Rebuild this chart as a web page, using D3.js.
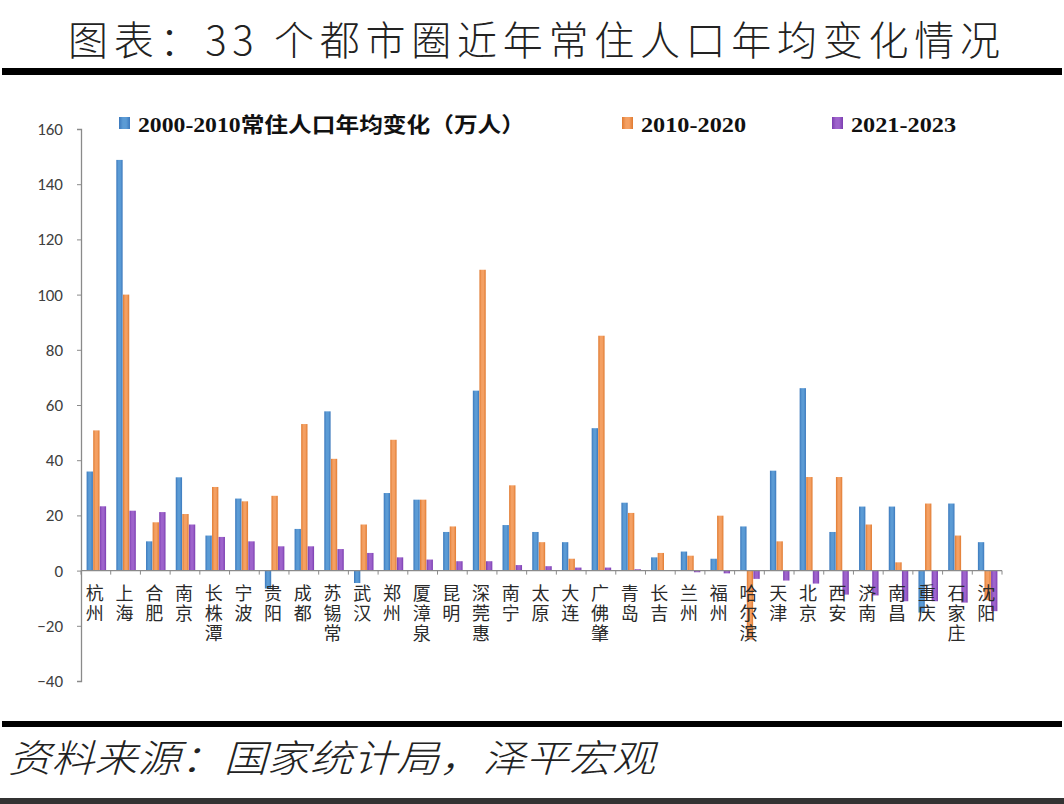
<!DOCTYPE html>
<html><head><meta charset="utf-8">
<script src="https://cdn.jsdelivr.net/npm/d3@7"></script>
<style>
html,body{margin:0;padding:0;background:#fff;}
svg{display:block;}
</style></head>
<body>
<svg id="c" width="1064" height="804"></svg>
<script>
const categories = ["杭州","上海","合肥","南京","长株潭","宁波","贵阳","成都","苏锡常","武汉","郑州","厦漳泉","昆明","深莞惠","南宁","太原","大连","广佛肇","青岛","长吉","兰州","福州","哈尔滨","天津","北京","西安","济南","南昌","重庆","石家庄","沈阳"];
const seriesNames = ["2000-2010常住人口年均变化（万人）","2010-2020","2021-2023"];
const s2000_2010 = [35.9,148.8,10.6,33.8,12.7,26.1,-6.5,15.1,57.7,-4.5,28.1,25.7,14.0,65.2,16.5,14.0,10.3,51.6,24.6,4.8,6.9,4.3,16.0,36.2,66.1,14.0,23.2,23.2,-15.2,24.3,10.3];
const s2010_2020 = [50.8,100.0,17.5,20.5,30.3,25.1,27.1,53.1,40.5,16.7,47.4,25.7,16.0,109.0,30.9,10.3,4.3,85.1,20.9,6.4,5.4,19.9,-25.0,10.6,33.9,33.9,16.7,3.0,24.3,12.7,-10.7];
const s2021_2023 = [23.3,21.7,21.2,16.7,12.2,10.6,8.8,8.8,7.8,6.4,4.8,4.0,3.4,3.4,2.0,1.6,1.1,1.1,0.5,0.2,-0.6,-1.0,-3.0,-3.6,-4.7,-8.7,-9.0,-11.1,-11.1,-11.6,-14.7];
const yTicks = [-40,-20,0,20,40,60,80,100,120,140,160];

const seriesData = [s2000_2010, s2010_2020, s2021_2023];
const fills = ["#5B9BD5","#F4A063","#9E63CC"];
const edges = ["#3B78BC","#E07A30","#7B3DB0"];

const svg = d3.select("#c");
const defs = svg.append("defs");
fills.forEach((f,i)=>{
  const g = defs.append("linearGradient").attr("id","g"+i).attr("x1","0").attr("x2","1").attr("y1","0").attr("y2","0");
  g.append("stop").attr("offset","0").attr("stop-color",edges[i]);
  g.append("stop").attr("offset","0.35").attr("stop-color",f);
  g.append("stop").attr("offset","0.65").attr("stop-color",f);
  g.append("stop").attr("offset","1").attr("stop-color",edges[i]);
});

// Title
svg.append("text").attr("x",68).attr("y",55)
  .attr("font-family","'Noto Sans CJK SC'").attr("font-weight",300).attr("font-size",40)
  .attr("fill","#222").attr("textLength",932).attr("lengthAdjust","spacing")
  .text("图表：33 个都市圈近年常住人口年均变化情况");
svg.append("rect").attr("x",2).attr("y",68).attr("width",1060).attr("height",7).attr("fill","#000");
svg.append("rect").attr("x",2).attr("y",721).attr("width",1060).attr("height",6).attr("fill","#000");

// Source
svg.append("text").attr("x",8).attr("y",772)
  .attr("font-family","'Noto Sans CJK SC'").attr("font-weight",300).attr("font-size",38)
  .attr("font-style","italic").attr("textLength",647).attr("lengthAdjust","spacingAndGlyphs")
  .attr("fill","#222").text("资料来源：国家统计局，泽平宏观");
svg.append("rect").attr("x",0).attr("y",798).attr("width",1064).attr("height",6).attr("fill","#333");

// Scales
const x0 = d3.scaleBand().domain(categories).range([81,1002]).paddingInner(0).paddingOuter(0);
const y = d3.scaleLinear().domain([-40,160]).range([681,129]);
const groupW = 19.5;
const x1 = d3.scaleBand().domain(d3.range(3)).range([0,groupW]).paddingInner(0.04);
const off = (x0.bandwidth()-groupW)/2 + 0.5;

// Y axis
const yAxis = d3.axisLeft(y).tickValues(yTicks).tickSize(4).tickPadding(14);
const ya = svg.append("g").attr("transform","translate(81,0)").call(yAxis);
ya.select(".domain").attr("stroke","#8a8a8a").attr("stroke-width",1.3);
ya.selectAll(".tick line").attr("stroke","#8a8a8a");
ya.selectAll(".tick text").attr("font-family","Carlito, 'Open Sans', sans-serif").attr("font-size",17).attr("fill","#404040");

// Bars
seriesData.forEach((arr,si)=>{
  svg.append("g").selectAll("rect").data(arr).join("rect")
    .attr("x",(d,i)=>x0(categories[i])+off+x1(si))
    .attr("width",x1.bandwidth())
    .attr("y",d=>y(Math.max(0,d)))
    .attr("height",d=>Math.abs(y(d)-y(0)))
    .attr("fill","url(#g"+si+")");
});

// X axis
const xa = svg.append("g").attr("transform","translate(0,"+y(0)+")");
xa.append("line").attr("x1",81).attr("x2",1002).attr("y1",0).attr("y2",0).attr("stroke","#8a8a8a").attr("stroke-width",1.3);
xa.selectAll("line.t").data(categories.concat(["_end"])).join("line").attr("class","t")
  .attr("x1",(d,i)=>81+i*x0.bandwidth()).attr("x2",(d,i)=>81+i*x0.bandwidth())
  .attr("y1",0).attr("y2",4).attr("stroke","#8a8a8a");

// Category labels (vertical)
svg.append("g").selectAll("text").data(categories).join("text")
  .attr("x",c=>x0(c)+x0.bandwidth()/2 - 1)
  .attr("y",584)
  .attr("writing-mode","vertical-rl")
  .attr("letter-spacing",2)
  .attr("font-family","'Noto Sans CJK SC'").attr("font-weight",400).attr("font-size",18).attr("fill","#2a2a2a")
  .text(c=>c);

// Legend
const legX = [119,622,832];
const legW = [387,105,105];
seriesNames.forEach((n,i)=>{
  svg.append("rect").attr("x",legX[i]).attr("y",117).attr("width",11).attr("height",12).attr("fill","url(#g"+i+")");
  svg.append("text").attr("x",legX[i]+19).attr("y",132)
    .attr("font-family","'Liberation Serif','Noto Sans CJK SC',serif").attr("font-weight","bold")
    .attr("font-size",21).attr("fill","#111")
    .attr("textLength",legW[i]).attr("lengthAdjust","spacingAndGlyphs").text(n);
});
</script>
</body></html>
